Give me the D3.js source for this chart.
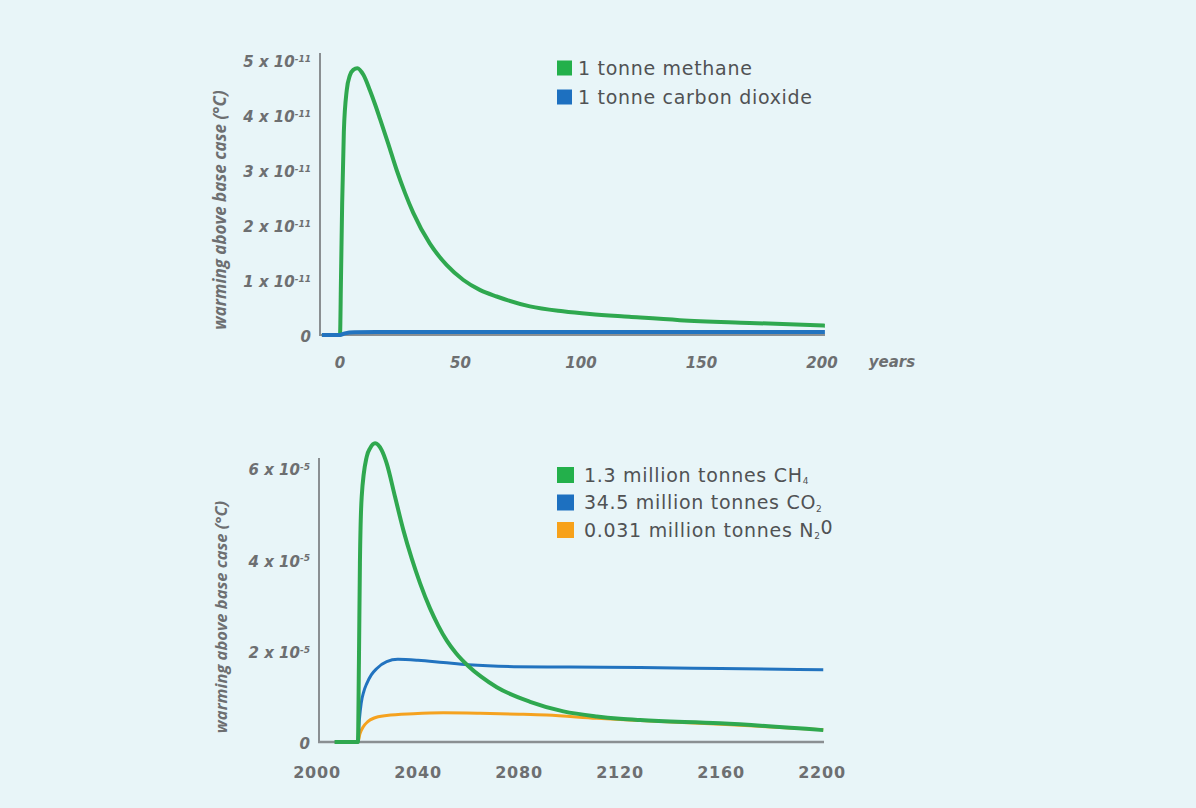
<!DOCTYPE html>
<html>
<head>
<meta charset="utf-8">
<script src="https://cdn.jsdelivr.net/npm/d3@7"></script>
<style>
  html, body { margin: 0; padding: 0; background: #e8f5f8; }
  svg { display: block; }
</style>
</head>
<body>
<svg id="chart" width="1196" height="808"></svg>
<script>
// ---------- DATA ----------
// Top chart: single 1-tonne pulse, values in units of 1e-11 °C
const topTicksY = [0, 1, 2, 3, 4, 5];
const topTicksX = [0, 50, 100, 150, 200];
const topMethaneYears = [-7.5, 0, 0.4, 0.9, 1.6, 2.8, 4.1, 5.5, 7.2, 9.7, 12.4, 14.5, 16.6, 20, 23.5, 27, 30.4, 37.3, 44.3, 51.2, 58, 65, 78.8, 92.5, 103.7, 120, 141, 170, 201.2];
const topMethaneValues = [0, 0, 1.0, 2.4, 3.7, 4.45, 4.72, 4.82, 4.85, 4.73, 4.45, 4.2, 3.93, 3.48, 3.0, 2.58, 2.22, 1.66, 1.27, 1.0, 0.82, 0.70, 0.52, 0.43, 0.38, 0.33, 0.27, 0.22, 0.17];
const topCO2Years = [-7.5, 0, 2, 6, 15, 50, 100, 150, 201.2];
const topCO2Values = [0, 0, 0.03, 0.05, 0.055, 0.055, 0.055, 0.055, 0.055];
const topLegend = ["1 tonne methane", "1 tonne carbon dioxide"];

// Bottom chart: emissions, values in units of 1e-5 °C
const botTicksY = [0, 2, 4, 6];
const botTicksX = [2000, 2040, 2080, 2120, 2160, 2200];
const botCH4Years = [2007, 2016.2, 2016.6, 2017.0, 2017.7, 2019.7, 2021, 2023, 2025.6, 2027.6, 2030.9, 2034.2, 2037.5, 2040.8, 2044.8, 2048, 2051.4, 2055, 2060, 2065, 2071.2, 2084.4, 2097.6, 2110.8, 2120, 2128, 2159.6, 2200.5];
const botCH4Values = [0, 0, 1.73, 3.92, 5.37, 6.25, 6.43, 6.54, 6.39, 6.1, 5.37, 4.64, 4.02, 3.48, 2.92, 2.55, 2.22, 1.95, 1.66, 1.43, 1.2, 0.88, 0.67, 0.56, 0.51, 0.48, 0.41, 0.26];
const botCO2Years = [2007, 2016.2, 2016.8, 2017.5, 2018.5, 2019.7, 2021.5, 2023.7, 2027.6, 2032, 2040, 2050, 2060, 2078, 2100, 2128, 2160, 2200.5];
const botCO2Values = [0, 0, 0.5, 0.85, 1.1, 1.28, 1.47, 1.61, 1.76, 1.81, 1.79, 1.74, 1.69, 1.65, 1.64, 1.63, 1.61, 1.58];
const botN2OYears = [2007, 2016.2, 2017, 2018.4, 2020, 2022.4, 2027.6, 2038.2, 2050, 2064.6, 2080, 2091, 2110.8, 2128, 2160, 2200.5];
const botN2OValues = [0, 0, 0.18, 0.34, 0.44, 0.52, 0.58, 0.62, 0.64, 0.63, 0.61, 0.59, 0.52, 0.47, 0.39, 0.27];
const botLegend = [
  ["1.3 million tonnes CH", "4"],
  ["34.5 million tonnes CO", "2"],
  ["0.031 million tonnes N", "2", "0"]
];

const yTitle = "warming above base case (°C)";
const colors = { methane: "#2fa84f", co2: "#2273bf", n2o: "#f5a21f", axis: "#8a8f92", tick: "#6d6f71", legend: "#505254" };
const legendSq = { methane: "#23b04b", co2: "#1d70c0", n2o: "#f7a11a" };

// ---------- DRAW ----------
const svg = d3.select("#chart");
svg.append("rect").attr("width", 1196).attr("height", 808).attr("fill", "#e8f5f8");

const tickFont = "'DejaVu Sans', sans-serif";
const legendFont = "'DejaVu Sans', sans-serif";
const titleFont = "'Open Sans', sans-serif";

function zip(xs, ys) { return xs.map((x, i) => [x, ys[i]]); }

function yTickLabel(g, value, exp, y, xRight) {
  const t = g.append("text")
    .attr("x", xRight).attr("y", y).attr("dy", "0.35em")
    .attr("text-anchor", "end")
    .attr("font-family", tickFont).attr("font-style", "italic").attr("font-weight", "bold")
    .attr("font-size", 15).attr("fill", colors.tick);
  if (value === 0) { t.text("0"); return; }
  t.append("tspan").text(value + " x 10");
  t.append("tspan").attr("font-size", 9).attr("dy", "-0.6em").text(exp);
}

// ----- TOP CHART -----
const xTop = d3.scaleLinear().domain([0, 200]).range([340, 822]);
const yTop = d3.scaleLinear().domain([0, 5]).range([335, 60]);
const gTop = svg.append("g");

gTop.append("line").attr("x1", 320).attr("x2", 320).attr("y1", 53).attr("y2", 336)
  .attr("stroke", colors.axis).attr("stroke-width", 2);
gTop.append("line").attr("x1", 320).attr("x2", 825).attr("y1", yTop(0)).attr("y2", yTop(0))
  .attr("stroke", colors.axis).attr("stroke-width", 2);

topTicksY.forEach(v => yTickLabel(gTop, v, "-11", yTop(v) + 2, 311));
topTicksX.forEach(v => {
  gTop.append("text").attr("x", xTop(v)).attr("y", 363).attr("dy", "0.35em")
    .attr("text-anchor", "middle")
    .attr("font-family", tickFont).attr("font-style", "italic").attr("font-weight", "bold")
    .attr("font-size", 15).attr("fill", colors.tick).text(v);
});
gTop.append("text").attr("x", 892).attr("y", 362).attr("dy", "0.35em")
  .attr("text-anchor", "middle")
  .attr("font-family", tickFont).attr("font-style", "italic").attr("font-weight", "bold")
  .attr("font-size", 15).attr("fill", colors.tick).text("years");

gTop.append("text").attr("transform", "translate(226,210) rotate(-90)")
  .attr("text-anchor", "middle")
  .attr("font-family", titleFont).attr("font-style", "italic").attr("font-weight", "bold")
  .attr("font-size", 17).attr("fill", colors.tick).text(yTitle);

const curve = d3.curveMonotoneX;
const lineTop = d3.line().x(d => xTop(d[0])).y(d => yTop(d[1])).curve(curve);
gTop.append("path").datum(zip(topMethaneYears, topMethaneValues)).attr("d", lineTop)
  .attr("fill", "none").attr("stroke", colors.methane).attr("stroke-width", 4).attr("stroke-linejoin", "round");
gTop.append("path").datum(zip(topCO2Years, topCO2Values)).attr("d", lineTop)
  .attr("fill", "none").attr("stroke", colors.co2).attr("stroke-width", 4).attr("stroke-linejoin", "round");

const topLegColors = [legendSq.methane, legendSq.co2];
topLegend.forEach((label, i) => {
  const y = 68 + i * 29;
  gTop.append("rect").attr("x", 557).attr("y", y - 7.5).attr("width", 15).attr("height", 15).attr("fill", topLegColors[i]);
  gTop.append("text").attr("x", 578).attr("y", y).attr("dy", "0.35em")
    .attr("font-family", legendFont).attr("font-size", 19).attr("letter-spacing", 0.7)
    .attr("fill", colors.legend).text(label);
});

// ----- BOTTOM CHART -----
const xBot = d3.scaleLinear().domain([2000, 2200]).range([317, 822]);
const yBot = d3.scaleLinear().domain([0, 6]).range([742, 468]);
const gBot = svg.append("g");

gBot.append("line").attr("x1", 319).attr("x2", 319).attr("y1", 458).attr("y2", 743)
  .attr("stroke", colors.axis).attr("stroke-width", 2);
gBot.append("line").attr("x1", 318).attr("x2", 824).attr("y1", yBot(0)).attr("y2", yBot(0))
  .attr("stroke", colors.axis).attr("stroke-width", 2.5);

botTicksY.forEach(v => yTickLabel(gBot, v, "-5", yBot(v) + 2, 310));
botTicksX.forEach(v => {
  gBot.append("text").attr("x", xBot(v)).attr("y", 772).attr("dy", "0.35em")
    .attr("text-anchor", "middle")
    .attr("font-family", tickFont).attr("font-weight", "bold")
    .attr("font-size", 16).attr("letter-spacing", 0.8).attr("fill", colors.tick).text(v);
});

gBot.append("text").attr("transform", "translate(227,617) rotate(-90)")
  .attr("text-anchor", "middle")
  .attr("font-family", titleFont).attr("font-style", "italic").attr("font-weight", "bold")
  .attr("font-size", 16.5).attr("fill", colors.tick).text(yTitle);

const lineBot = d3.line().x(d => xBot(d[0])).y(d => yBot(d[1])).curve(curve);
gBot.append("path").datum(zip(botN2OYears, botN2OValues)).attr("d", lineBot)
  .attr("fill", "none").attr("stroke", colors.n2o).attr("stroke-width", 3).attr("stroke-linejoin", "round");
gBot.append("path").datum(zip(botCO2Years, botCO2Values)).attr("d", lineBot)
  .attr("fill", "none").attr("stroke", colors.co2).attr("stroke-width", 3).attr("stroke-linejoin", "round");
gBot.append("path").datum(zip(botCH4Years, botCH4Values)).attr("d", lineBot)
  .attr("fill", "none").attr("stroke", colors.methane).attr("stroke-width", 4).attr("stroke-linejoin", "round");

const botLegColors = [legendSq.methane, legendSq.co2, legendSq.n2o];
botLegend.forEach((parts, i) => {
  const y = 475 + i * 27.5;
  gBot.append("rect").attr("x", 557).attr("y", y - 8).attr("width", 17).attr("height", 16).attr("fill", botLegColors[i]);
  const t = gBot.append("text").attr("x", 584).attr("y", y).attr("dy", "0.35em")
    .attr("font-family", legendFont).attr("font-size", 19).attr("letter-spacing", 0.7)
    .attr("fill", colors.legend);
  t.append("tspan").text(parts[0]);
  t.append("tspan").attr("font-size", 9).attr("dy", "0.3em").text(parts[1]);
  if (parts[2]) t.append("tspan").attr("dy", "-0.3em").attr("font-size", 19).text(parts[2]);
});
</script>
</body>
</html>
